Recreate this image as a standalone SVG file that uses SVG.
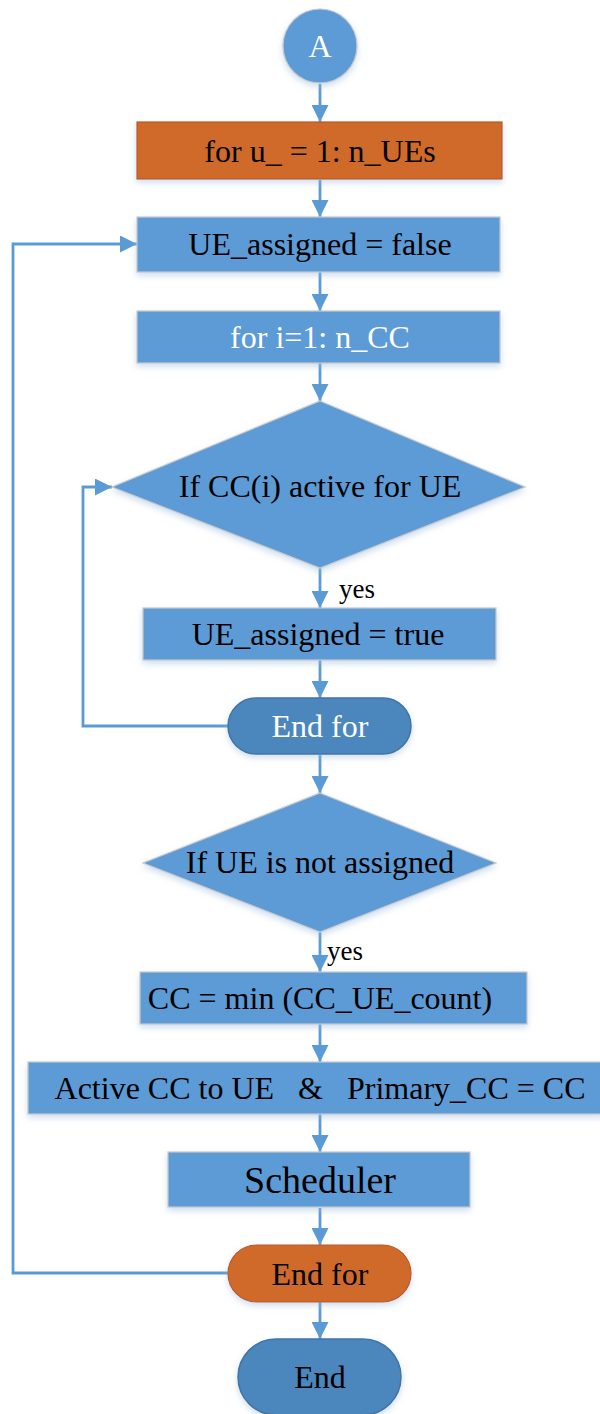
<svg xmlns="http://www.w3.org/2000/svg" width="600" height="1414" viewBox="0 0 600 1414">
<style>
.t{font-family:"Liberation Serif","Times New Roman",serif;font-size:32px;text-anchor:middle;dominant-baseline:central;fill:#000}
.w{fill:#fff}
.blue{fill:#5b9bd5;stroke:#c9c9c9;stroke-width:1.2}
.org{fill:#d06a2a;stroke:#b85a20;stroke-width:1.2}
.dark{fill:#4c86bd;stroke:#3f74a6;stroke-width:1.5}
.c{fill:none;stroke:#5b9bd5;stroke-width:2.8}
.lbl{font-family:"Liberation Serif","Times New Roman",serif;font-size:27px;fill:#000}
</style>
<defs>
<marker id="ah" markerWidth="17" markerHeight="17" refX="17" refY="8.5" orient="auto" markerUnits="userSpaceOnUse" viewBox="0 0 17 17">
<path d="M0,0 L17,8.5 L0,17 z" fill="#5b9bd5"/>
</marker>
<filter id="sh" x="-10%" y="-10%" width="120%" height="130%">
<feDropShadow dx="0" dy="3" stdDeviation="3" flood-color="#9dbbe0" flood-opacity="0.5"/>
</filter>
</defs>
<g id="connectors">
<line class="c" x1="320" y1="84" x2="320" y2="122" marker-end="url(#ah)"/>
<line class="c" x1="320" y1="180" x2="320" y2="217" marker-end="url(#ah)"/>
<line class="c" x1="320" y1="272" x2="320" y2="311" marker-end="url(#ah)"/>
<line class="c" x1="320" y1="363" x2="320" y2="401" marker-end="url(#ah)"/>
<line class="c" x1="320" y1="568" x2="320" y2="608" marker-end="url(#ah)"/>
<line class="c" x1="320" y1="660" x2="320" y2="698" marker-end="url(#ah)"/>
<polyline class="c" points="228,726 83,726 83,487 112,487" marker-end="url(#ah)"/>
<line class="c" x1="320" y1="755" x2="320" y2="793" marker-end="url(#ah)"/>
<line class="c" x1="320" y1="932" x2="320" y2="972" marker-end="url(#ah)"/>
<line class="c" x1="320" y1="1024" x2="320" y2="1062" marker-end="url(#ah)"/>
<line class="c" x1="320" y1="1114" x2="320" y2="1152" marker-end="url(#ah)"/>
<line class="c" x1="320" y1="1208" x2="320" y2="1245" marker-end="url(#ah)"/>
<line class="c" x1="320" y1="1302" x2="320" y2="1339" marker-end="url(#ah)"/>
<polyline class="c" points="228,1273 13,1273 13,244 137,244" marker-end="url(#ah)"/>
<text class="lbl" x="339" y="598">yes</text>
<text class="lbl" x="327" y="960">yes</text>
</g>
<g id="start">
<circle class="blue" cx="320" cy="46" r="37" filter="url(#sh)"/>
<text class="t w" x="320" y="46">A</text>
</g>
<g id="loop_ue">
<rect class="org" x="137" y="122" width="365" height="57" filter="url(#sh)"/>
<text class="t" x="320" y="151">for u_ = 1: n_UEs</text>
</g>
<g id="ue_false">
<rect class="blue" x="137" y="217" width="363" height="55" filter="url(#sh)"/>
<text class="t" x="320" y="244">UE_assigned = false</text>
</g>
<g id="loop_cc">
<rect class="blue" x="137" y="311" width="363" height="52" filter="url(#sh)"/>
<text class="t w" x="320" y="337">for i=1: n_CC</text>
</g>
<g id="cond_cc">
<polygon class="blue" points="320,401 525,487 320,568 112,487" filter="url(#sh)"/>
<text class="t" x="320" y="486">If CC(i) active for UE</text>
</g>
<g id="ue_true">
<rect class="blue" x="143" y="608" width="353" height="52" filter="url(#sh)"/>
<text class="t" x="318" y="634">UE_assigned = true</text>
</g>
<g id="endfor_cc">
<rect class="dark" x="228" y="698" width="183" height="56" rx="28" filter="url(#sh)"/>
<text class="t w" x="320" y="726">End for</text>
</g>
<g id="cond_ue">
<polygon class="blue" points="320,793 496,863 320,932 143,863" filter="url(#sh)"/>
<text class="t" x="320" y="862">If UE is not assigned</text>
</g>
<g id="cc_min">
<rect class="blue" x="140" y="972" width="387" height="52" filter="url(#sh)"/>
<text class="t" x="320" y="998">CC = min (CC_UE_count)</text>
</g>
<g id="active_cc">
<rect class="blue" x="28" y="1062" width="576" height="52" filter="url(#sh)"/>
<text class="t" x="320" y="1088" xml:space="preserve">Active CC to UE   &amp;   Primary_CC = CC</text>
</g>
<g id="scheduler">
<rect class="blue" x="168" y="1152" width="302" height="55" filter="url(#sh)"/>
<text class="t" x="320" y="1180" style="font-size:38px">Scheduler</text>
</g>
<g id="endfor_ue">
<rect class="org" x="228" y="1245" width="183" height="57" rx="28.5" filter="url(#sh)"/>
<text class="t" x="320" y="1274">End for</text>
</g>
<g id="end">
<rect class="dark" x="238" y="1339" width="163" height="76" rx="38" filter="url(#sh)"/>
<text class="t" x="320" y="1377">End</text>
</g>
</svg>
